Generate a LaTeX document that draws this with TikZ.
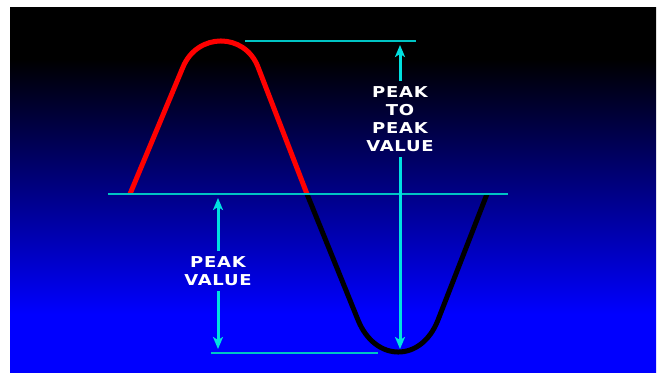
\documentclass[tikz,border=0pt]{standalone}
\usepackage{fontspec}
\usetikzlibrary{arrows.meta}
\newfontfamily\capsfont[LetterSpace=5,FakeStretch=1.2]{DejaVu Sans}
\definecolor{lvl}{HTML}{00C4C4}
\definecolor{arr}{HTML}{00E0E0}
\definecolor{posw}{HTML}{FF0000}
\definecolor{negw}{HTML}{000000}
\definecolor{scrtop}{HTML}{000000}
\definecolor{scrbot}{HTML}{0000FF}
\pgfdeclareverticalshading{screen}{100bp}{color(0bp)=(scrbot); color(33bp)=(scrbot);
  color(68bp)=(scrtop); color(100bp)=(scrtop)}
\tikzset{
  wave/.style={line width=5pt, line join=round},
  lvlline/.style={draw=lvl, line width=2pt},
  dim/.style={-{Stealth[length=12pt,width=10pt,inset=3pt]}, draw=arr, line width=3pt,
              shorten >=4pt},
  tag/.style={text=white, font=\capsfont\bfseries\fontsize{15}{18}\selectfont,
              align=center, inner sep=5pt},
}
\begin{document}
\begin{tikzpicture}[x=1pt, y=1pt]
    \useasboundingbox (0,0) rectangle (663,372);
    \fill[white] (0,0) rectangle (663,372);
    \shade[shading=screen] (10,0) rectangle (656,364);
    % the two half waves
    \draw[wave, draw=posw] (130,178) -- (183,305) .. controls (197.5,339.7) and (244.6,339.7) .. (258,305) -- (307,178);
    \draw[wave, draw=negw] (307,178) -- (358,52) .. controls (375.3,9.3) and (421.4,9.3) .. (438,52) -- (487,178);
    % levels
    \coordinate (hi0) at (245,331); \coordinate (hi1) at (416,331);
    \coordinate (zl0) at (108,178); \coordinate (zl1) at (508,178);
    \coordinate (lo0) at (211,19);  \coordinate (lo1) at (378,19);
    \draw[lvlline] (hi0) -- (hi1);
    \draw[lvlline] (zl0) -- (zl1);
    \draw[lvlline] (lo0) -- (lo1);
    % labels and their arrows
    \node[tag] (p2p) at (400,253) {PEAK\\TO\\PEAK\\VALUE};
    \node[tag] (pk) at (218,101) {PEAK\\VALUE};
    \draw[dim] (p2p.north) -- (p2p.north |- hi0);
    \draw[dim] (p2p.south) -- (p2p.south |- lo0);
    \draw[dim] (pk.north) -- (pk.north |- zl0);
    \draw[dim] (pk.south) -- (pk.south |- lo0);
\end{tikzpicture}
\end{document}
